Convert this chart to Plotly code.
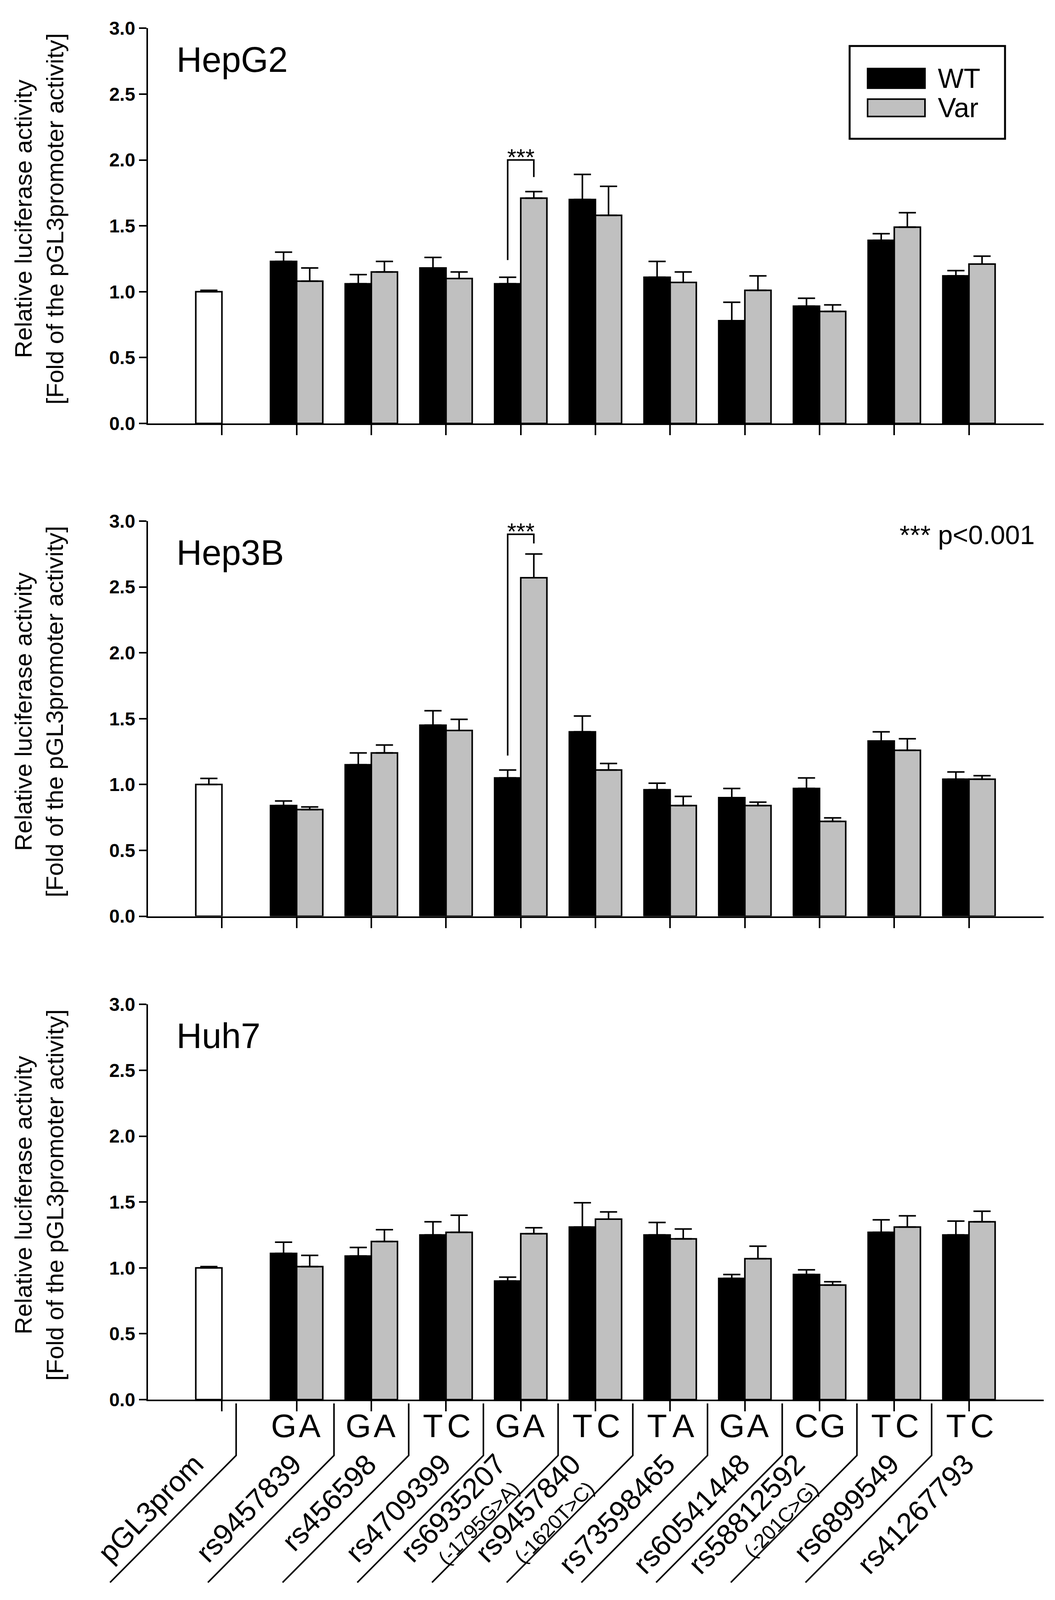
import math
import plotly.graph_objects as go
from plotly.subplots import make_subplots

# ---- data ----
labels = ["pGL3prom", "rs9457839", "rs456598", "rs4709399", "rs6935207", "rs9457840",
          "rs73598465", "rs60541448", "rs58812592", "rs6899549", "rs41267793"]
sublabels = ["", "", "", "", "(-1795G>A)", "(-1620T>C)", "", "", "(-201C>G)", "", ""]
wt_allele = ["G", "G", "T", "G", "T", "T", "G", "C", "T", "T"]
var_allele = ["A", "A", "C", "A", "C", "A", "A", "G", "C", "C"]

cells = ["HepG2", "Hep3B", "Huh7"]

ctrl = [1.00, 1.00, 1.00]
ctrl_err = [0.01, 0.046, 0.01]

hepg2_wt = [1.23, 1.06, 1.18, 1.06, 1.70, 1.11, 0.78, 0.89, 1.39, 1.12]
hepg2_wt_err = [0.07, 0.07, 0.08, 0.05, 0.19, 0.12, 0.14, 0.06, 0.05, 0.04]
hepg2_var = [1.08, 1.15, 1.10, 1.71, 1.58, 1.07, 1.01, 0.85, 1.49, 1.21]
hepg2_var_err = [0.10, 0.08, 0.05, 0.05, 0.22, 0.08, 0.11, 0.05, 0.11, 0.06]

hep3b_wt = [0.84, 1.15, 1.45, 1.05, 1.40, 0.96, 0.90, 0.97, 1.33, 1.04]
hep3b_wt_err = [0.035, 0.09, 0.11, 0.06, 0.12, 0.05, 0.07, 0.08, 0.07, 0.055]
hep3b_var = [0.81, 1.24, 1.41, 2.57, 1.11, 0.84, 0.84, 0.72, 1.26, 1.04]
hep3b_var_err = [0.02, 0.06, 0.085, 0.18, 0.05, 0.07, 0.026, 0.027, 0.087, 0.027]

huh7_wt = [1.11, 1.09, 1.25, 0.90, 1.31, 1.25, 0.92, 0.95, 1.27, 1.25]
huh7_wt_err = [0.085, 0.065, 0.10, 0.03, 0.185, 0.095, 0.03, 0.035, 0.095, 0.105]
huh7_var = [1.01, 1.20, 1.27, 1.26, 1.37, 1.22, 1.07, 0.87, 1.31, 1.35]
huh7_var_err = [0.085, 0.09, 0.13, 0.045, 0.055, 0.075, 0.095, 0.025, 0.085, 0.08]

# significance brackets: (panel, snp index, left foot, top, right foot)
sig_brackets = [(1, 4, 1.24, 2.00, 1.87), (2, 4, 1.22, 2.90, 2.83)]

wt_all = [hepg2_wt, hep3b_wt, huh7_wt]
wt_err_all = [hepg2_wt_err, hep3b_wt_err, huh7_wt_err]
var_all = [hepg2_var, hep3b_var, huh7_var]
var_err_all = [hepg2_var_err, hep3b_var_err, huh7_var_err]

# ---- geometry (positions measured on a 2702 x 4203 sheet) ----
W, H = 2702, 4203
FIG_H = 4110  # a bit shorter than the sheet so the slanted labels are not cut at the bottom
FONT = "Liberation Sans, Arial, sans-serif"
XR = [-0.99, 11.0]
XDOM = [379 / W, 2673 / W]
YDOMS = [[1 - 1096 / H, 1 - 48 / H], [1 - 2403 / H, 1 - 1355 / H], [1 - 3685 / H, 1 - 2637 / H]]
BW = 0.35
ANG = 46  # slant of the category labels

# rough Arial advance widths (em) for the label glyphs
AW = {"r": .333, "s": .5, "p": .556, "G": .778, "L": .556, "o": .556, "m": .833, "(": .333, ")": .333,
      "-": .333, ">": .584, "A": .667, "T": .611, "C": .722}


def text_len(s, size):
    return sum(AW.get(c, 0.556) for c in s) * size


def py(p):
    return 1 - p / H


def xpaper(u):
    return XDOM[0] + (u - XR[0]) / (XR[1] - XR[0]) * (XDOM[1] - XDOM[0])


snp_x = list(range(1, len(labels)))

fig = make_subplots(rows=3, cols=1)

for i in range(3):
    r = i + 1
    fig.add_trace(go.Bar(x=[0], y=[ctrl[i]], width=BW, offset=-BW,
                         marker=dict(color="white", line=dict(color="black", width=4)),
                         error_y=dict(type="data", array=[ctrl_err[i]], arrayminus=[0], symmetric=False,
                                      color="black", thickness=4, width=22),
                         showlegend=False), row=r, col=1)
    fig.add_trace(go.Bar(x=snp_x, y=wt_all[i], width=BW, offset=-BW, name="WT",
                         marker=dict(color="black", line=dict(color="black", width=4)),
                         error_y=dict(type="data", array=wt_err_all[i], arrayminus=[0] * 10, symmetric=False,
                                      color="black", thickness=4, width=22),
                         showlegend=False), row=r, col=1)
    fig.add_trace(go.Bar(x=snp_x, y=var_all[i], width=BW, offset=0, name="Var",
                         marker=dict(color="#c0c0c0", line=dict(color="black", width=4)),
                         error_y=dict(type="data", array=var_err_all[i], arrayminus=[0] * 10, symmetric=False,
                                      color="black", thickness=4, width=22),
                         showlegend=False), row=r, col=1)

axis_common = dict(showline=True, linewidth=4, linecolor="black", ticks="outside", tickwidth=4,
                   tickcolor="black", showgrid=False, zeroline=False)
for i in range(3):
    sfx = "" if i == 0 else str(i + 1)
    fig.layout["xaxis" + sfx].update(domain=XDOM, range=XR, tickvals=list(range(11)), showticklabels=False,
                                     ticklen=26, **axis_common)
    fig.layout["yaxis" + sfx].update(domain=YDOMS[i], range=[0, 3.0], tickvals=[0, 0.5, 1, 1.5, 2, 2.5, 3],
                                     tickformat=".1f", ticklen=19,
                                     tickfont=dict(family=FONT, size=48, color="black", weight="bold"),
                                     **axis_common)

ann = []
shapes = []
for i in range(3):
    ya = "y" if i == 0 else "y" + str(i + 1)
    # panel name
    ann.append(dict(x=450 / W, xref="paper", y=2.76, yref=ya, text=cells[i], showarrow=False,
                    xanchor="left", yanchor="middle", font=dict(family=FONT, size=90, color="black")))
    # y title
    ymid = (YDOMS[i][0] + YDOMS[i][1]) / 2 + 18 / H
    ann.append(dict(x=100 / W, xref="paper", y=ymid, yref="paper", textangle=-90,
                    text="Relative luciferase activity<br>[Fold of the pGL3promoter activity]",
                    showarrow=False, xanchor="center", yanchor="middle",
                    font=dict(family=FONT, size=62, color="black")))

# significance brackets
for panel, k, lo_l, top, lo_r in sig_brackets:
    xa = "x" if panel == 1 else "x" + str(panel)
    ya = "y" if panel == 1 else "y" + str(panel)
    xl, xr = k - BW / 2, k + BW / 2
    shapes.append(dict(type="path", xref=xa, yref=ya,
                       path=f"M {xl},{lo_l} L {xl},{top} L {xr},{top} L {xr},{lo_r}",
                       line=dict(color="black", width=4)))
    ann.append(dict(x=k, xref=xa, y=top + 0.02, yref=ya, text="***", showarrow=False,
                    xanchor="center", yanchor="middle", font=dict(family=FONT, size=60, color="black")))

ann.append(dict(x=2652 / W, xref="paper", y=2.895, yref="y2", text="*** p<0.001", showarrow=False,
                xanchor="right", yanchor="middle", font=dict(family=FONT, size=68, color="black")))

# legend drawn by hand (wide swatches as in the original)
shapes.append(dict(type="rect", xref="paper", yref="paper", x0=2176 / W, x1=2574 / W, y0=py(341), y1=py(95),
                   line=dict(color="black", width=5), fillcolor="white"))
for name, fill, y0, y1 in [("WT", "black", 155, 207), ("Var", "#c0c0c0", 236, 282)]:
    shapes.append(dict(type="rect", xref="paper", yref="paper", x0=2222 / W, x1=2369 / W, y0=py(y1), y1=py(y0),
                       line=dict(color="black", width=4), fillcolor=fill))
    ann.append(dict(x=2400 / W, xref="paper", y=py((y0 + y1) / 2), yref="paper", text=name, showarrow=False,
                    xanchor="left", yanchor="middle", font=dict(family=FONT, size=70, color="black")))

# bottom category axis: alleles, separators and slanted labels
for j, k in enumerate(snp_x):
    for off, al in [(-BW / 2, wt_allele[j]), (BW / 2, var_allele[j])]:
        ann.append(dict(x=k + off, xref="x3", y=py(3754), yref="paper", text=al, showarrow=False,
                        xanchor="center", yanchor="middle", font=dict(family=FONT, size=84, color="black")))

cos_a, sin_a = math.cos(math.radians(ANG)), math.sin(math.radians(ANG))
MAIN, SUB = 74, 52
sy = FIG_H / H  # vertical pixel scale of the drawn figure


def slanted(txt, size, ex, ey):
    # ex, ey: sheet position where the text ends (upper right); centre it down-left along the slant
    half = text_len(txt, size) / 2
    cx, cy = ex - half * cos_a, ey + half * sin_a / sy
    ann.append(dict(x=cx / W, xref="paper", y=py(cy), yref="paper", text=txt.replace(">", "&gt;"),
                    showarrow=False, textangle=-ANG, xanchor="center", yanchor="middle",
                    font=dict(family=FONT, size=size, color="black")))


dx = -323 / W
sep_u = [0.19] + [k + 0.5 for k in snp_x]
for n, u in enumerate(sep_u):
    xs = xpaper(u)
    if n < len(sep_u) - 1:
        shapes.append(dict(type="path", xref="paper", yref="paper",
                           path=f"M {xs},{py(3695)} L {xs},{py(3833)} L {xs + dx},{py(4170)}",
                           line=dict(color="black", width=4)))
    sx = xs * W
    if sublabels[n]:
        slanted(labels[n], MAIN, sx - 147, 3844)
        slanted(sublabels[n], SUB, sx - 108, 3912)
    else:
        slanted(labels[n], MAIN, sx - 97, 3844)

fig.update_layout(width=W, height=FIG_H, margin=dict(l=0, r=0, t=0, b=0), barmode="overlay",
                  paper_bgcolor="white", plot_bgcolor="white", showlegend=False,
                  annotations=ann, shapes=shapes, font=dict(family=FONT, color="black"))

fig.write_html("out.html", config={"displayModeBar": False},
               post_script="document.body.style.margin='0px';")
